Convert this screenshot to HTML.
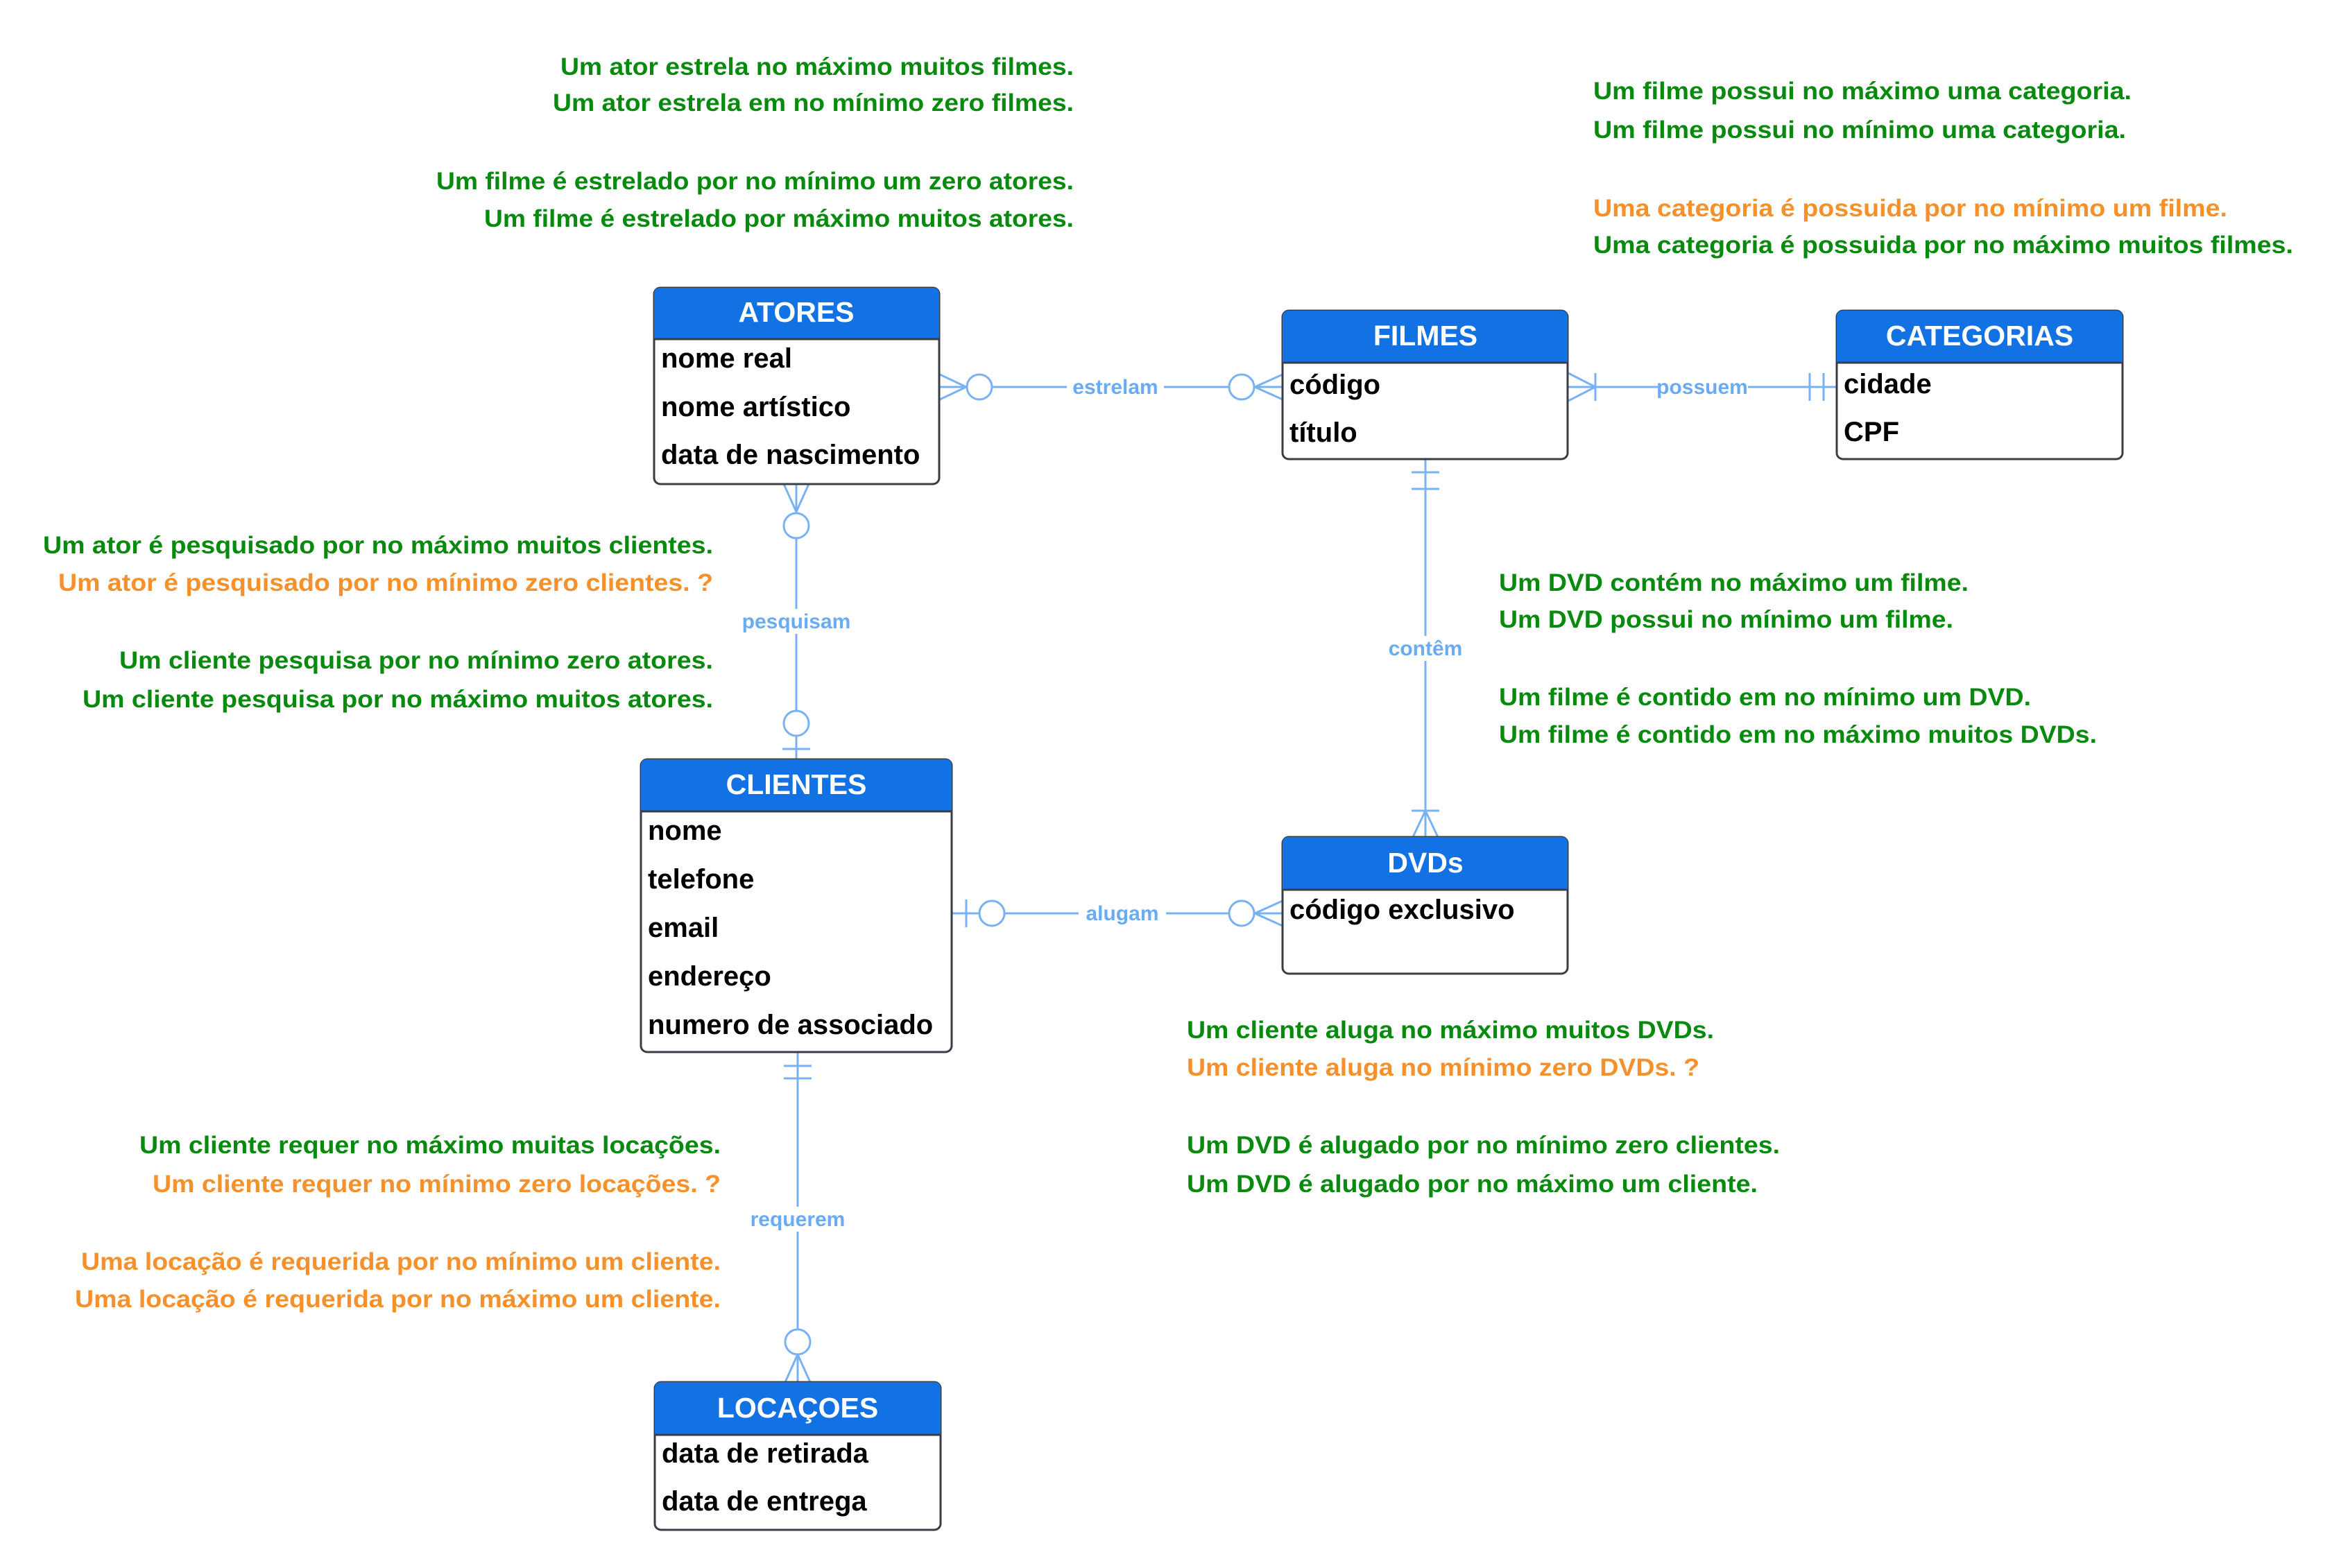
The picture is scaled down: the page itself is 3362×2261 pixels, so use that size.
<!DOCTYPE html>
<html><head><meta charset="utf-8"><style>
html,body{margin:0;padding:0;background:#fff;}
svg{display:block;}
.t{font-family:"Liberation Sans",sans-serif;font-weight:bold;}
</style></head><body>
<svg width="3362" height="2261" viewBox="0 0 3362 2261" xmlns="http://www.w3.org/2000/svg">
<rect width="3362" height="2261" fill="#fff"/>
<g stroke="#78b2f5" stroke-width="3" fill="none">
<line x1="1354" y1="558" x2="1849" y2="558"/>
<path d="M1355,540 L1393,558 L1355,576"/>
<circle cx="1412" cy="558" r="18" fill="#fff"/>
<path d="M1849,540 L1809,558 L1849,576"/>
<circle cx="1790" cy="558" r="18" fill="#fff"/>
<line x1="2261" y1="558" x2="2648" y2="558"/>
<path d="M2261,538 L2300,558 L2261,578"/>
<line x1="2300" y1="538" x2="2300" y2="578"/>
<line x1="2609" y1="538" x2="2609" y2="578"/>
<line x1="2629" y1="538" x2="2629" y2="578"/>
<line x1="1148" y1="698" x2="1148" y2="1095"/>
<path d="M1130,698 L1148,738 L1166,698"/>
<circle cx="1148" cy="758" r="18" fill="#fff"/>
<line x1="1128" y1="1080" x2="1168" y2="1080"/>
<circle cx="1148" cy="1043" r="18" fill="#fff"/>
<line x1="2055" y1="662" x2="2055" y2="1207"/>
<line x1="2035" y1="681" x2="2075" y2="681"/>
<line x1="2035" y1="705" x2="2075" y2="705"/>
<path d="M2037,1207 L2055,1169 L2073,1207"/>
<line x1="2035" y1="1169" x2="2075" y2="1169"/>
<line x1="1372" y1="1317" x2="1849" y2="1317"/>
<line x1="1393" y1="1297" x2="1393" y2="1337"/>
<circle cx="1430" cy="1317" r="18" fill="#fff"/>
<path d="M1849,1299 L1809,1317 L1849,1335"/>
<circle cx="1790" cy="1317" r="18" fill="#fff"/>
<line x1="1150" y1="1517" x2="1150" y2="1993"/>
<line x1="1130" y1="1537" x2="1170" y2="1537"/>
<line x1="1130" y1="1555" x2="1170" y2="1555"/>
<path d="M1132,1993 L1150,1953 L1168,1993"/>
<circle cx="1150" cy="1935" r="18" fill="#fff"/>
</g>
<g class="t" font-size="30" fill="#6aabf5" text-anchor="middle">
<rect x="1538" y="540" width="140" height="36" fill="#fff"/><text x="1608" y="568">estrelam</text>
<rect x="2390" y="540" width="130" height="36" fill="#fff"/><text x="2454" y="568">possuem</text>
<rect x="1070" y="878" width="160" height="36" fill="#fff"/><text x="1148" y="906">pesquisam</text>
<rect x="1995" y="917" width="120" height="36" fill="#fff"/><text x="2055" y="945">contêm</text>
<rect x="1555" y="1299" width="126" height="36" fill="#fff"/><text x="1618" y="1327">alugam</text>
<rect x="1078" y="1740" width="144" height="36" fill="#fff"/><text x="1150" y="1768">requerem</text>
</g>
<g class="t">
<g>
<rect x="943" y="415" width="411" height="283" rx="9" fill="#fff" stroke="#3a3d45" stroke-width="3"/>
<path d="M952,415 H1345 Q1354,415 1354,424 V489 H943 V424 Q943,415 952,415Z" fill="#1271e3"/>
<line x1="943" y1="489" x2="1354" y2="489" stroke="#3a3d45" stroke-width="3"/>
<text x="1148" y="464" font-size="41" fill="#fff" text-anchor="middle">ATORES</text>
<text x="953" y="530" font-size="40">nome real</text>
<text x="953" y="600" font-size="40">nome artístico</text>
<text x="953" y="669" font-size="40">data de nascimento</text>
</g>
<g>
<rect x="1849" y="448" width="411" height="214" rx="9" fill="#fff" stroke="#3a3d45" stroke-width="3"/>
<path d="M1858,448 H2251 Q2260,448 2260,457 V523 H1849 V457 Q1849,448 1858,448Z" fill="#1271e3"/>
<line x1="1849" y1="523" x2="2260" y2="523" stroke="#3a3d45" stroke-width="3"/>
<text x="2055" y="498" font-size="41" fill="#fff" text-anchor="middle">FILMES</text>
<text x="1859" y="568" font-size="40">código</text>
<text x="1859" y="637" font-size="40">título</text>
</g>
<g>
<rect x="2648" y="448" width="412" height="214" rx="9" fill="#fff" stroke="#3a3d45" stroke-width="3"/>
<path d="M2657,448 H3051 Q3060,448 3060,457 V523 H2648 V457 Q2648,448 2657,448Z" fill="#1271e3"/>
<line x1="2648" y1="523" x2="3060" y2="523" stroke="#3a3d45" stroke-width="3"/>
<text x="2854" y="498" font-size="41" fill="#fff" text-anchor="middle">CATEGORIAS</text>
<text x="2658" y="567" font-size="40">cidade</text>
<text x="2658" y="636" font-size="40">CPF</text>
</g>
<g>
<rect x="924" y="1095" width="448" height="422" rx="9" fill="#fff" stroke="#3a3d45" stroke-width="3"/>
<path d="M933,1095 H1363 Q1372,1095 1372,1104 V1170 H924 V1104 Q924,1095 933,1095Z" fill="#1271e3"/>
<line x1="924" y1="1170" x2="1372" y2="1170" stroke="#3a3d45" stroke-width="3"/>
<text x="1148" y="1145" font-size="41" fill="#fff" text-anchor="middle">CLIENTES</text>
<text x="934" y="1211" font-size="40">nome</text>
<text x="934" y="1281" font-size="40">telefone</text>
<text x="934" y="1351" font-size="40">email</text>
<text x="934" y="1421" font-size="40">endereço</text>
<text x="934" y="1491" font-size="40">numero de associado</text>
</g>
<g>
<rect x="1849" y="1207" width="411" height="197" rx="9" fill="#fff" stroke="#3a3d45" stroke-width="3"/>
<path d="M1858,1207 H2251 Q2260,1207 2260,1216 V1283 H1849 V1216 Q1849,1207 1858,1207Z" fill="#1271e3"/>
<line x1="1849" y1="1283" x2="2260" y2="1283" stroke="#3a3d45" stroke-width="3"/>
<text x="2055" y="1258" font-size="41" fill="#fff" text-anchor="middle">DVDs</text>
<text x="1859" y="1325" font-size="40">código exclusivo</text>
</g>
<g>
<rect x="944" y="1993" width="412" height="213" rx="9" fill="#fff" stroke="#3a3d45" stroke-width="3"/>
<path d="M953,1993 H1347 Q1356,1993 1356,2002 V2069 H944 V2002 Q944,1993 953,1993Z" fill="#1271e3"/>
<line x1="944" y1="2069" x2="1356" y2="2069" stroke="#3a3d45" stroke-width="3"/>
<text x="1150" y="2044" font-size="41" fill="#fff" text-anchor="middle">LOCAÇOES</text>
<text x="954" y="2109" font-size="40">data de retirada</text>
<text x="954" y="2178" font-size="40">data de entrega</text>
</g>
</g>
<g class="t" font-size="35">
<text x="808" y="108" textLength="740" lengthAdjust="spacingAndGlyphs" fill="#088a0e">Um ator estrela no máximo muitos filmes.</text>
<text x="797" y="160" textLength="751" lengthAdjust="spacingAndGlyphs" fill="#088a0e">Um ator estrela em no mínimo zero filmes.</text>
<text x="629" y="273" textLength="919" lengthAdjust="spacingAndGlyphs" fill="#088a0e">Um filme é estrelado por no mínimo um zero atores.</text>
<text x="698" y="327" textLength="850" lengthAdjust="spacingAndGlyphs" fill="#088a0e">Um filme é estrelado por máximo muitos atores.</text>

<text x="2297" y="143" textLength="776" lengthAdjust="spacingAndGlyphs" fill="#088a0e">Um filme possui no máximo uma categoria.</text>
<text x="2297" y="199" textLength="768" lengthAdjust="spacingAndGlyphs" fill="#088a0e">Um filme possui no mínimo uma categoria.</text>
<text x="2297" y="312" textLength="914" lengthAdjust="spacingAndGlyphs" fill="#f5902a">Uma categoria é possuida por no mínimo um filme.</text>
<text x="2297" y="365" textLength="1009" lengthAdjust="spacingAndGlyphs" fill="#088a0e">Uma categoria é possuida por no máximo muitos filmes.</text>

<text x="62" y="798" textLength="966" lengthAdjust="spacingAndGlyphs" fill="#088a0e">Um ator é pesquisado por no máximo muitos clientes.</text>
<text x="84" y="852" textLength="944" lengthAdjust="spacingAndGlyphs" fill="#f5902a">Um ator é pesquisado por no mínimo zero clientes. ?</text>
<text x="172" y="964" textLength="856" lengthAdjust="spacingAndGlyphs" fill="#088a0e">Um cliente pesquisa por no mínimo zero atores.</text>
<text x="119" y="1020" textLength="909" lengthAdjust="spacingAndGlyphs" fill="#088a0e">Um cliente pesquisa por no máximo muitos atores.</text>

<text x="2161" y="852" textLength="677" lengthAdjust="spacingAndGlyphs" fill="#088a0e">Um DVD contém no máximo um filme.</text>
<text x="2161" y="905" textLength="655" lengthAdjust="spacingAndGlyphs" fill="#088a0e">Um DVD possui no mínimo um filme.</text>
<text x="2161" y="1017" textLength="767" lengthAdjust="spacingAndGlyphs" fill="#088a0e">Um filme é contido em no mínimo um DVD.</text>
<text x="2161" y="1071" textLength="862" lengthAdjust="spacingAndGlyphs" fill="#088a0e">Um filme é contido em no máximo muitos DVDs.</text>

<text x="1711" y="1497" textLength="760" lengthAdjust="spacingAndGlyphs" fill="#088a0e">Um cliente aluga no máximo muitos DVDs.</text>
<text x="1711" y="1551" textLength="739" lengthAdjust="spacingAndGlyphs" fill="#f5902a">Um cliente aluga no mínimo zero DVDs. ?</text>
<text x="1711" y="1663" textLength="855" lengthAdjust="spacingAndGlyphs" fill="#088a0e">Um DVD é alugado por no mínimo zero clientes.</text>
<text x="1711" y="1719" textLength="823" lengthAdjust="spacingAndGlyphs" fill="#088a0e">Um DVD é alugado por no máximo um cliente.</text>

<text x="201" y="1663" textLength="838" lengthAdjust="spacingAndGlyphs" fill="#088a0e">Um cliente requer no máximo muitas locações.</text>
<text x="220" y="1719" textLength="819" lengthAdjust="spacingAndGlyphs" fill="#f5902a">Um cliente requer no mínimo zero locações. ?</text>
<text x="117" y="1831" textLength="922" lengthAdjust="spacingAndGlyphs" fill="#f5902a">Uma locação é requerida por no mínimo um cliente.</text>
<text x="108" y="1885" textLength="931" lengthAdjust="spacingAndGlyphs" fill="#f5902a">Uma locação é requerida por no máximo um cliente.</text>
</g>
</svg>
</body></html>
